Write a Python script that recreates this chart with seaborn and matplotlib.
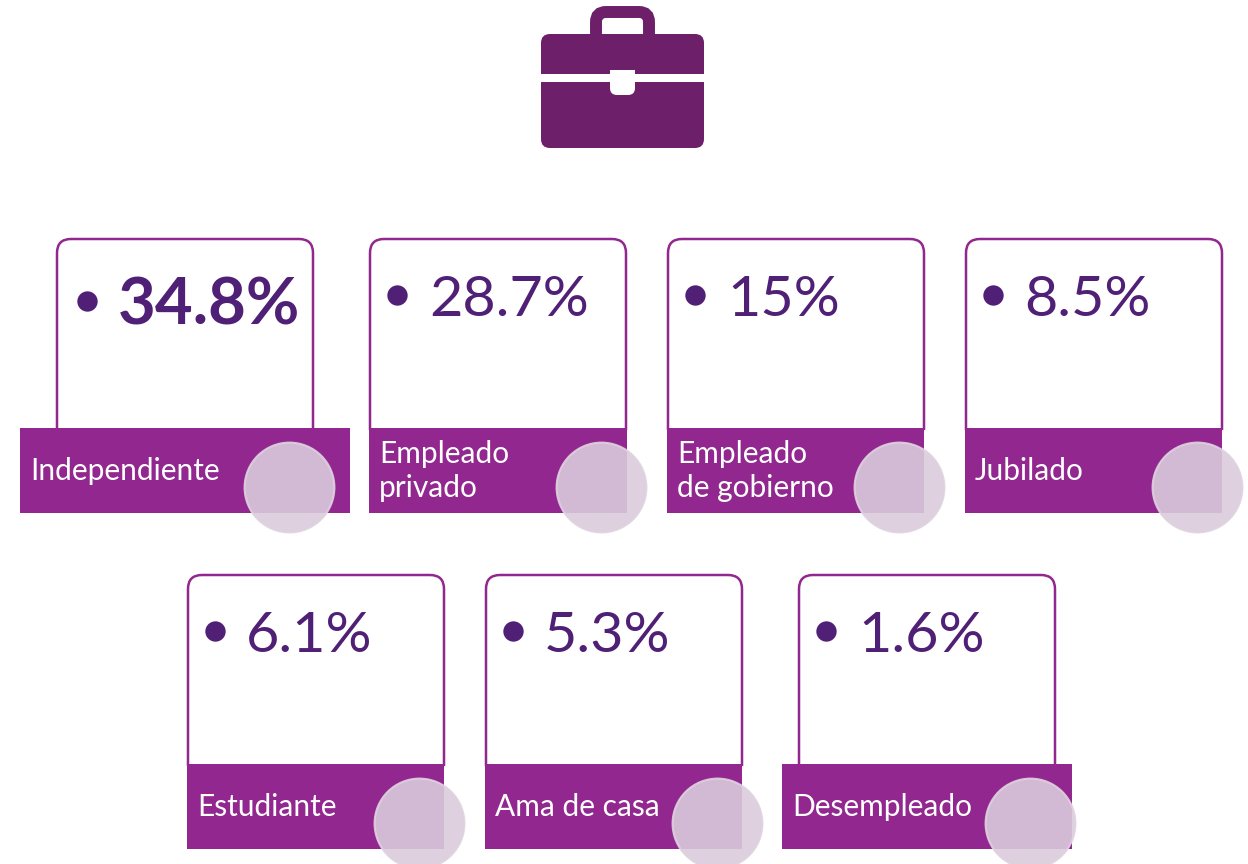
import matplotlib
matplotlib.use("Agg")
import matplotlib.pyplot as plt
from matplotlib.patches import FancyBboxPatch, Rectangle
import pandas as pd
import seaborn as sns

# values from the picture
categories = ["Independiente", "Empleado\nprivado", "Empleado\nde gobierno", "Jubilado",
              "Estudiante", "Ama de casa", "Desempleado"]
values = ["34.8%", "28.7%", "15%", "8.5%", "6.1%", "5.3%", "1.6%"]

# layout in pixels
card_left = [57, 370, 668, 966, 188, 486, 799]
card_top = [239, 239, 239, 239, 575, 575, 575]
band_left = [20, 369, 667, 965, 187, 485, 782]
band_right = [350, 627, 924, 1222, 444, 742, 1072]
circle_x = [288.5, 601, 899, 1196.5, 419, 716.5, 1030]
bullet_x = [87, 397, 695, 993, 215, 513, 826]
value_x = [118, 429, 727, 1024, 246, 544, 858]

PURPLE = "#92278F"
DARK = "#4F2075"
ICON = "#6D1F6A"

sns.set_theme(style="white")
plt.rcParams["font.family"] = ["Lato", "DejaVu Sans"]

fig, ax = plt.subplots(figsize=(12.48, 8.64), dpi=100)
fig.subplots_adjust(0, 0, 1, 1)
ax.set_xlim(0, 1248)
ax.set_ylim(864, 0)
ax.axis("off")

# briefcase
ax.add_patch(FancyBboxPatch((596, 12), 53, 40, boxstyle="round,pad=0,rounding_size=10",
                            fc="none", ec=ICON, lw=8.6, zorder=1))
ax.add_patch(Rectangle((585, 34), 75, 30, fc=ICON, ec="none", zorder=2))
ax.add_patch(FancyBboxPatch((541, 34), 163, 114, boxstyle="round,pad=0,rounding_size=9",
                            fc=ICON, ec="none", zorder=2))
ax.add_patch(Rectangle((541, 74), 163, 8, fc="white", ec="none", zorder=3))
ax.add_patch(FancyBboxPatch((610, 70), 25, 25, boxstyle="round,pad=0,rounding_size=7",
                            fc="white", ec="none", zorder=3))
ax.add_patch(Rectangle((610, 70), 25, 10, fc="white", ec="none", zorder=3))

for i in range(len(values)):
    top = card_top[i]
    card = FancyBboxPatch((card_left[i], top), 256, 230, boxstyle="round,pad=0,rounding_size=14",
                          fc="white", ec=PURPLE, lw=1.8, zorder=2)
    ax.add_patch(card)
    # only the part above the band shows, the round bottom corners stay hidden
    card.set_clip_path(Rectangle((0, top - 5), 1248, 196, transform=ax.transData))
    ax.add_patch(Rectangle((band_left[i], top + 189), band_right[i] - band_left[i], 84.5,
                           fc=PURPLE, ec="none", zorder=3))
    ax.text(band_left[i] + 10, top + 232, categories[i], color="white", fontsize=21.5,
            ha="left", va="center", linespacing=1.28, zorder=4)
    first = i == 0
    ax.text(value_x[i], top + (67 if first else 62), values[i], color=DARK,
            fontsize=47 if first else 41.4, fontweight="bold" if first else "normal",
            ha="left", va="center", zorder=4)

df = pd.DataFrame({"x": circle_x, "y": [t + 248 for t in card_top],
                   "bx": bullet_x, "by": [t + (62 if n == 0 else 56) for n, t in enumerate(card_top)]})
sns.scatterplot(data=df, x="x", y="y", s=4180, color="#DBCBDC", alpha=0.9, edgecolor="#DFD2E0",
                linewidth=1.5, legend=False, ax=ax, zorder=5)
sns.scatterplot(data=df, x="bx", y="by", s=215, color=DARK, linewidth=0, legend=False, ax=ax, zorder=4)
ax.set_xlim(0, 1248)
ax.set_ylim(864, 0)
ax.axis("off")

fig.savefig("out.png", dpi=100, facecolor="white")
